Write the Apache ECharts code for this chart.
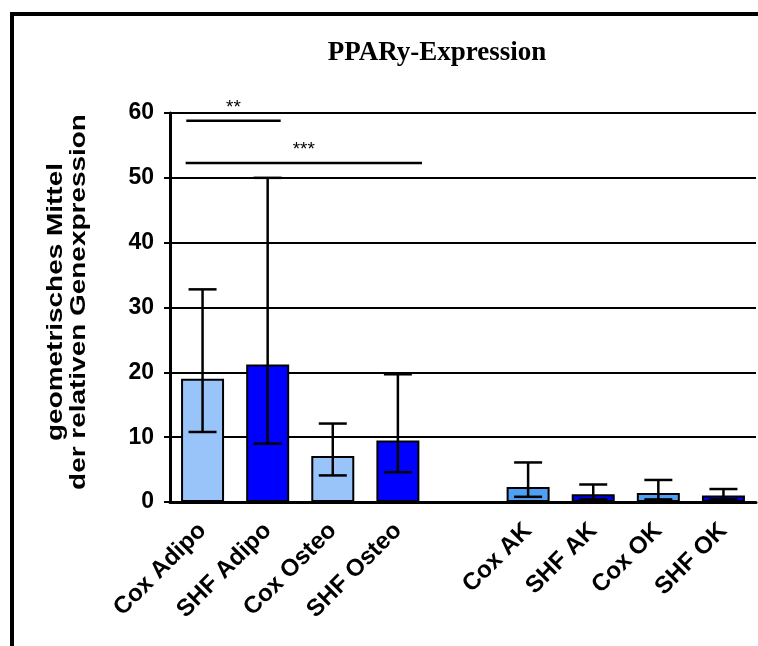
<!DOCTYPE html>
<html>
<head>
<meta charset="utf-8">
<script src="https://cdn.jsdelivr.net/npm/echarts@6/dist/echarts.min.js"></script>
<style>
  html, body { margin: 0; padding: 0; background: #fff; }
  #chart { width: 758px; height: 646px; }
</style>
</head>
<body>
<div id="chart"></div>
<script>
// Groups along the x axis; the empty slot separates the two panels
const categories = ['Cox Adipo', 'SHF Adipo', 'Cox Osteo', 'SHF Osteo', '', 'Cox AK', 'SHF AK', 'Cox OK', 'SHF OK'];
// Geometric mean of relative expression
const meanValues = [19.0, 21.2, 7.1, 9.5, null, 2.3, 1.2, 1.4, 1.0];
// Lower / upper end of each error bar
const errLow = [10.8, 9.0, 4.1, 4.6, null, 0.8, 0.4, 0.4, 0.4];
const errHigh = [32.8, 50.0, 12.1, 19.7, null, 6.1, 2.7, 3.4, 2.0];
// Fill colour of each bar
const barColors = ['#99c4fa', '#0000ff', '#99c4fa', '#0000ff', '#ffffff', '#4f9ff2', '#0000e6', '#4f9ff2', '#0000e6'];
// Significance brackets: start/end in category units, height, label
const bracketStart = [-0.25, -0.26];
const bracketEnd = [1.2, 3.37];
const bracketY = [58.8, 52.3];
const bracketText = ['**', '***'];
// y axis ticks
const yTicks = [0, 10, 20, 30, 40, 50, 60];

const chart = echarts.init(document.getElementById('chart'), null, { renderer: 'canvas' });

const barData = meanValues.map((v, i) => ({
  value: v === null ? '-' : v,
  itemStyle: { color: barColors[i] }
}));

const errData = [];
categories.forEach((c, i) => {
  if (errLow[i] !== null) errData.push([i, errLow[i], errHigh[i]]);
});

const bracketData = bracketY.map((y, i) => [0, y, bracketStart[i], bracketEnd[i], i]);

const option = {
  backgroundColor: '#ffffff',
  animation: false,
  title: {
    text: 'PPARy-Expression',
    left: 432,
    top: 35,
    textAlign: 'center',
    textStyle: {
      fontFamily: 'Liberation Serif',
      fontWeight: 'bold',
      fontSize: 27,
      color: '#000'
    }
  },
  grid: { left: 170, right: 2, top: 113, bottom: 144 },
  xAxis: {
    type: 'category',
    data: categories,
    axisLine: { lineStyle: { color: '#000', width: 3 } },
    axisTick: { alignWithLabel: true, length: 8, lineStyle: { color: '#000', width: 3 } },
    axisLabel: {
      rotate: 45,
      interval: 0,
      margin: 25,
      color: '#000',
      fontFamily: 'Liberation Sans',
      fontWeight: 'bold',
      fontSize: 24
    }
  },
  yAxis: {
    type: 'value',
    min: yTicks[0],
    max: yTicks[yTicks.length - 1],
    interval: 10,
    axisLine: { show: true, lineStyle: { color: '#000', width: 3 } },
    axisTick: { show: true, length: 6, lineStyle: { color: '#000', width: 2 } },
    axisLabel: {
      margin: 16,
      color: '#000',
      fontFamily: 'Liberation Sans',
      fontWeight: 'bold',
      fontSize: 23
    },
    splitLine: { lineStyle: { color: '#000', width: 2 } }
  },
  graphic: [
    {
      type: 'rect',
      shape: { x: 12, y: 14, width: 800, height: 700 },
      style: { fill: 'none', stroke: '#000', lineWidth: 4 },
      silent: true
    },
    {
      type: 'text',
      x: 67,
      y: 302,
      rotation: Math.PI / 2,
      scaleX: 1.27,
      style: {
        text: 'geometrisches Mittel\nder relativen Genexpression',
        fontFamily: 'Liberation Sans',
        fontWeight: 'bold',
        fontSize: 22,
        lineHeight: 23,
        fill: '#000',
        align: 'center',
        verticalAlign: 'middle'
      }
    }
  ],
  series: [
    {
      type: 'bar',
      data: barData,
      barWidth: 43,
      itemStyle: { borderColor: '#000', borderWidth: 2 },
      z: 2
    },
    {
      type: 'custom',
      data: errData,
      z: 3,
      renderItem: function (params, api) {
        const x = api.value(0);
        const lo = api.coord([x, api.value(1)]);
        const hi = api.coord([x, api.value(2)]);
        const half = 14;
        const st = { stroke: '#000', lineWidth: 2.5 };
        return {
          type: 'group',
          children: [
            { type: 'line', shape: { x1: lo[0], y1: lo[1], x2: hi[0], y2: hi[1] }, style: st },
            { type: 'line', shape: { x1: lo[0] - half, y1: lo[1], x2: lo[0] + half, y2: lo[1] }, style: st },
            { type: 'line', shape: { x1: hi[0] - half, y1: hi[1], x2: hi[0] + half, y2: hi[1] }, style: st }
          ]
        };
      }
    },
    {
      type: 'custom',
      data: bracketData,
      z: 3,
      renderItem: function (params, api) {
        const base = api.coord([0, api.value(1)]);
        const band = api.size([1, 0])[0];
        const x1 = base[0] + api.value(2) * band;
        const x2 = base[0] + api.value(3) * band;
        const idx = api.value(4);
        return {
          type: 'group',
          children: [
            { type: 'line', shape: { x1: x1, y1: base[1], x2: x2, y2: base[1] }, style: { stroke: '#000', lineWidth: 2.5 } },
            {
              type: 'text',
              style: {
                text: bracketText[idx],
                x: (x1 + x2) / 2,
                y: base[1] - 4,
                fontFamily: 'Liberation Sans',
                fontSize: 19,
                fill: '#000',
                align: 'center',
                verticalAlign: 'bottom'
              }
            }
          ]
        };
      }
    }
  ]
};

chart.setOption(option);
</script>
</body>
</html>
